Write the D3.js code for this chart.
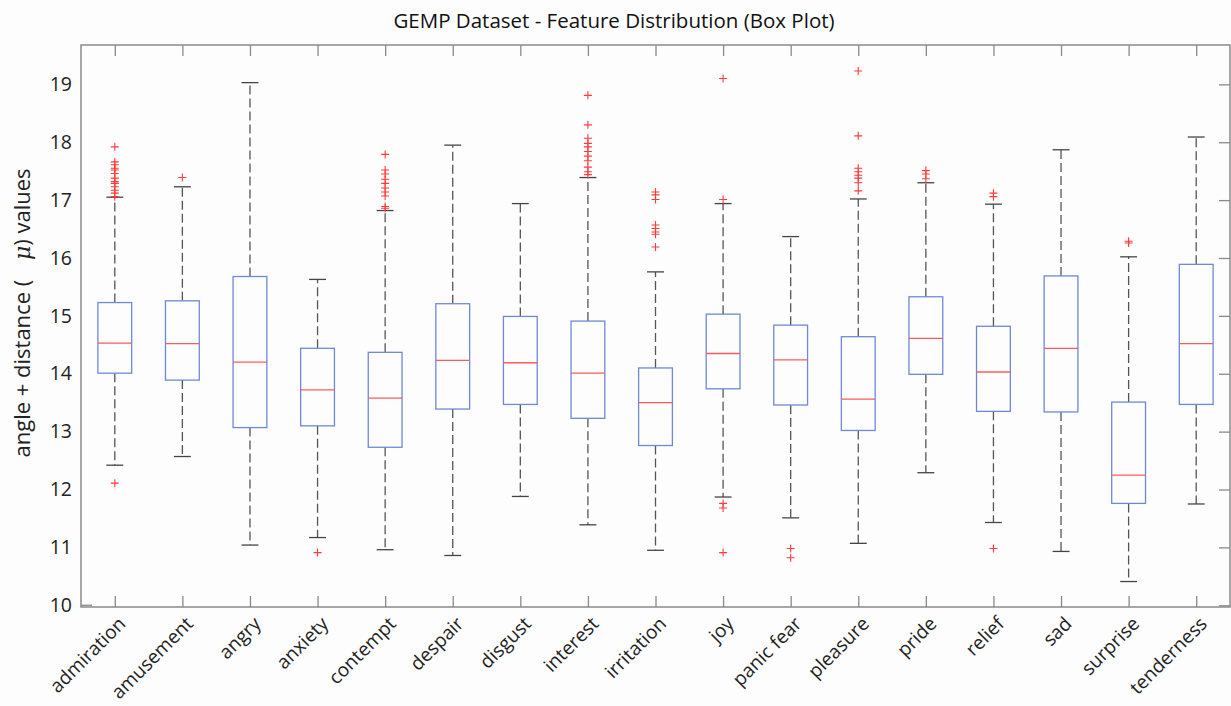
<!DOCTYPE html>
<html>
<head>
<meta charset="utf-8">
<script src="https://cdn.jsdelivr.net/npm/d3@7"></script>
<style>
  html, body { margin: 0; padding: 0; background: #fdfdfd; }
  svg { display: block; font-family: "Open Sans", "Noto Sans", sans-serif; }
</style>
</head>
<body>
<svg id="chart" width="1231" height="706"></svg>
<script>
// ---------------- data ----------------
const categories = ["admiration","amusement","angry","anxiety","contempt","despair","disgust","interest","irritation","joy","panic fear","pleasure","pride","relief","sad","surprise","tenderness"];
const whiskerLow  = [12.42, 12.57, 11.04, 11.17, 10.96, 10.86, 11.88, 11.39, 10.95, 11.87, 11.51, 11.07, 12.29, 11.43, 10.93, 10.41, 11.75];
const q1          = [14.01, 13.89, 13.07, 13.10, 12.73, 13.39, 13.47, 13.23, 12.76, 13.74, 13.46, 13.02, 13.99, 13.35, 13.34, 11.76, 13.47];
const medians     = [14.53, 14.52, 14.20, 13.72, 13.58, 14.23, 14.19, 14.01, 13.50, 14.35, 14.24, 13.56, 14.61, 14.03, 14.44, 12.25, 14.52];
const q3          = [15.23, 15.26, 15.68, 14.44, 14.37, 15.21, 14.99, 14.91, 14.10, 15.03, 14.84, 14.64, 15.33, 14.82, 15.69, 13.51, 15.89];
const whiskerHigh = [17.05, 17.23, 19.03, 15.63, 16.82, 17.95, 16.94, 17.39, 15.76, 16.94, 16.37, 17.02, 17.30, 16.93, 17.87, 16.02, 18.09];
const outliers = [
  [17.92, 17.66, 17.61, 17.55, 17.52, 17.46, 17.38, 17.32, 17.29, 17.23, 17.17, 17.12, 17.06, 12.11],
  [17.39],
  [],
  [10.91],
  [17.79, 17.52, 17.45, 17.36, 17.29, 17.21, 17.14, 17.07, 16.89, 16.86],
  [],
  [],
  [18.81, 18.30, 18.07, 17.98, 17.92, 17.84, 17.76, 17.68, 17.57, 17.49, 17.44],
  [17.14, 17.09, 17.01, 16.57, 16.51, 16.45, 16.41, 16.19],
  [19.10, 17.01, 11.76, 11.68, 10.91],
  [10.98, 10.82],
  [19.23, 18.11, 17.55, 17.49, 17.43, 17.38, 17.30, 17.16],
  [17.51, 17.45, 17.37],
  [17.12, 17.06, 10.98],
  [],
  [16.29, 16.26],
  []
];
const yTicks = [10, 11, 12, 13, 14, 15, 16, 17, 18, 19];
const titleText = "GEMP Dataset - Feature Distribution (Box Plot)";

// ---------------- layout ----------------
const L = 81, R = 1230, T = 45, B = 607;
const svg = d3.select("#chart");

const x = d3.scalePoint().domain(categories).range([L, R]).padding(0.5);
const y = d3.scaleLinear().domain([9.97, 19.68]).range([B, T]);
const step = x.step();
const boxW = step * 0.5;
const capW = step * 0.25;

const rows = categories.map((c, i) => ({
  c, lo: whiskerLow[i], q1: q1[i], med: medians[i], q3: q3[i], hi: whiskerHigh[i], out: outliers[i]
}));

// frame
const axisColor = "#8a8a8a";
svg.append("rect")
  .attr("x", L).attr("y", T).attr("width", R - L).attr("height", B - T)
  .attr("fill", "#fdfdfd").attr("stroke", axisColor).attr("stroke-width", 1.5);

// x ticks (inward, bottom and top)
const tickLen = 11;
const xAxisB = d3.axisBottom(x).tickSize(-tickLen).tickFormat("");
const gxb = svg.append("g").attr("transform", `translate(0,${B})`).call(xAxisB);
const xAxisT = d3.axisTop(x).tickSize(-tickLen).tickFormat("");
const gxt = svg.append("g").attr("transform", `translate(0,${T})`).call(xAxisT);
[gxb, gxt].forEach(g => {
  g.select(".domain").remove();
  g.selectAll("line").attr("stroke", axisColor).attr("stroke-width", 1.3);
});

// y axis right ticks (inward)
const yAxisR = d3.axisRight(y).tickValues(yTicks).tickSize(-tickLen).tickFormat("");
const gyr = svg.append("g").attr("transform", `translate(${R},0)`).call(yAxisR);
gyr.select(".domain").remove();
gyr.selectAll("line").attr("stroke", axisColor).attr("stroke-width", 1.3);

// y axis left labels
const yAxisL = d3.axisLeft(y).tickValues(yTicks).tickSize(0).tickPadding(9).tickFormat(d3.format("d"));
const gyl = svg.append("g").attr("transform", `translate(${L},0)`).call(yAxisL);
gyl.select(".domain").remove();
gyl.selectAll("text")
  .attr("font-family", "'Open Sans', sans-serif")
  .attr("font-size", 19.5).attr("fill", "#222");
// small left tick at the lowest value
svg.append("line")
  .attr("x1", L).attr("x2", L + tickLen)
  .attr("y1", y(10)).attr("y2", y(10))
  .attr("stroke", axisColor).attr("stroke-width", 1.3);

// x labels rotated
svg.append("g").selectAll("text").data(categories).join("text")
  .attr("transform", d => `translate(${x(d) + 12},${B + 18}) rotate(-45)`)
  .attr("text-anchor", "end")
  .attr("font-size", 19)
  .attr("fill", "#222")
  .text(d => d);

// boxes
const g = svg.append("g");
const item = g.selectAll("g.box").data(rows).join("g").attr("class", "box");

// whiskers (dashed)
item.append("line")
  .attr("x1", d => x(d.c)).attr("x2", d => x(d.c))
  .attr("y1", d => y(d.q3)).attr("y2", d => y(d.hi))
  .attr("stroke", "#555").attr("stroke-width", 1.3).attr("stroke-dasharray", "9,4");
item.append("line")
  .attr("x1", d => x(d.c)).attr("x2", d => x(d.c))
  .attr("y1", d => y(d.q1)).attr("y2", d => y(d.lo))
  .attr("stroke", "#555").attr("stroke-width", 1.3).attr("stroke-dasharray", "9,4");
// caps
["hi", "lo"].forEach(k => {
  item.append("line")
    .attr("x1", d => x(d.c) - capW / 2).attr("x2", d => x(d.c) + capW / 2)
    .attr("y1", d => y(d[k])).attr("y2", d => y(d[k]))
    .attr("stroke", "#444").attr("stroke-width", 1.3);
});
// box
item.append("rect")
  .attr("x", d => x(d.c) - boxW / 2).attr("width", boxW)
  .attr("y", d => y(d.q3)).attr("height", d => y(d.q1) - y(d.q3))
  .attr("fill", "none").attr("stroke", "#7088d6").attr("stroke-width", 1.3);
// median
item.append("line")
  .attr("x1", d => x(d.c) - boxW / 2).attr("x2", d => x(d.c) + boxW / 2)
  .attr("y1", d => y(d.med)).attr("y2", d => y(d.med))
  .attr("stroke", "#ff5a5a").attr("stroke-width", 1.3);

// outliers (+)
const pts = rows.flatMap(d => d.out.map(v => ({ c: d.c, v })));
const ps = 4;
svg.append("g").selectAll("path").data(pts).join("path")
  .attr("d", d => {
    const cx = x(d.c), cy = y(d.v);
    return `M${cx - ps},${cy}H${cx + ps}M${cx},${cy - ps}V${cy + ps}`;
  })
  .attr("stroke", "#ff3b3b").attr("stroke-width", 1.1).attr("fill", "none");

// title
svg.append("text")
  .attr("x", 614).attr("y", 28)
  .attr("text-anchor", "middle")
  .attr("font-size", 20.5).attr("fill", "#111")
  .text(titleText);

// y label
const yl = svg.append("text")
  .attr("transform", `translate(30,313) rotate(-90)`)
  .attr("text-anchor", "middle")
  .attr("font-size", 22).attr("fill", "#222")
  .attr("xml:space", "preserve");
yl.append("tspan").text("angle + distance ( ");
yl.append("tspan").attr("dx", 14).attr("font-style", "italic").attr("font-family", "'DejaVu Serif', serif").text("μ");
yl.append("tspan").text(") values");
</script>
</body>
</html>
